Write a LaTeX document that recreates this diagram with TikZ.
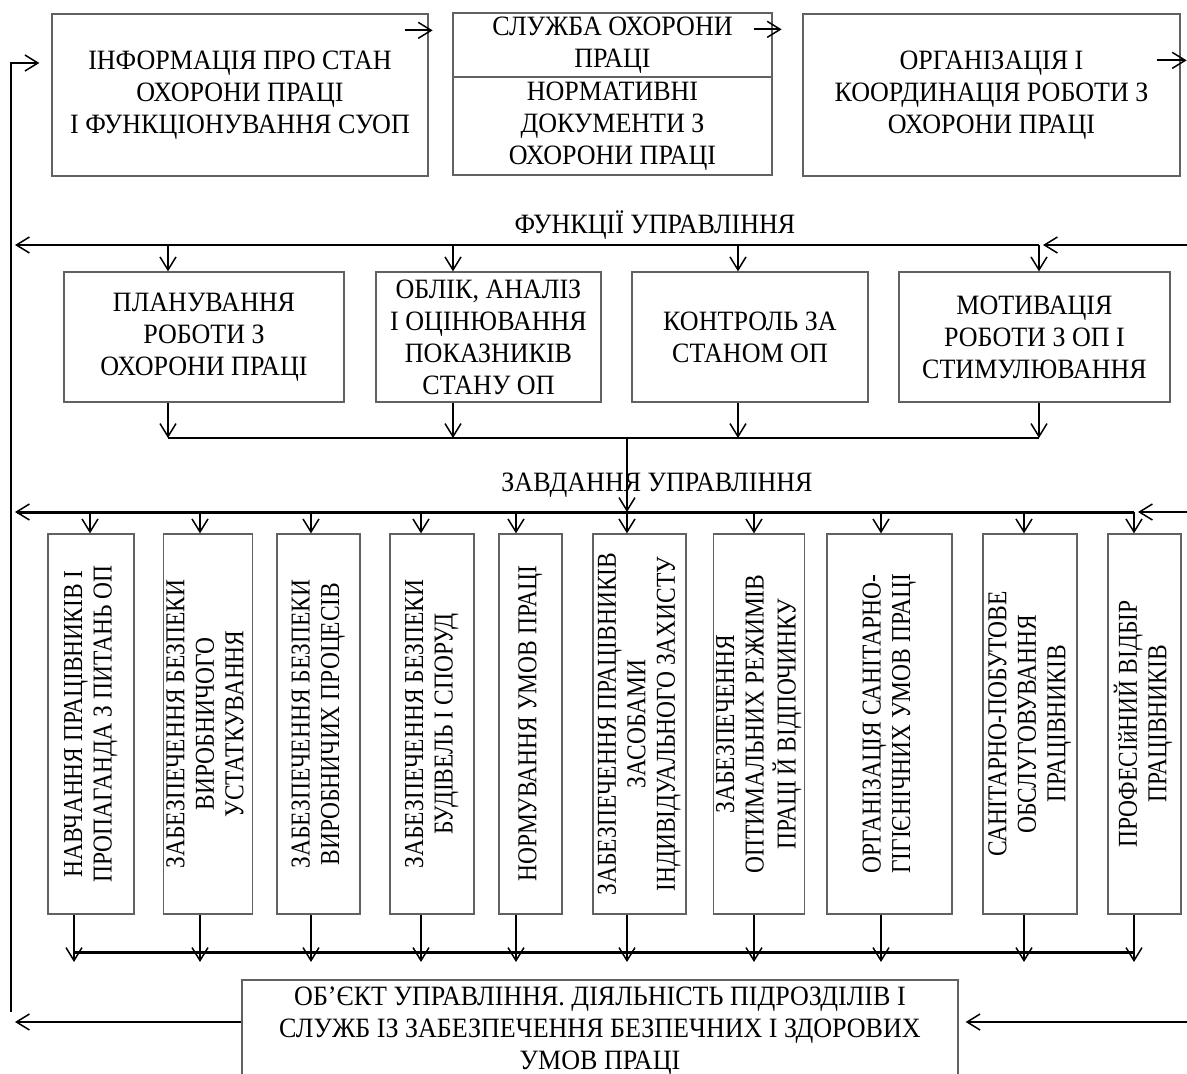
\documentclass[tikz,border=0pt]{standalone}
\usepackage{fontspec}
\setmainfont{Liberation Serif}[FakeStretch=0.93]
\newfontfamily\vfont{Liberation Serif}[FakeStretch=0.86]
\usetikzlibrary{arrows.meta}
\tikzset{
  blk/.style={draw=black!62,line width=1.3pt,align=center,inner sep=0pt,font=\fontsize{28}{32}\selectfont},
  lnk/.style={line width=1.8pt,-{Straight Barb[length=13pt,width=16pt,line width=1.5pt]}},
  bus/.style={line width=3pt},
}
\newcommand\vlines[1]{\rotatebox{90}{\vfont\fontsize{27.3}{29.5}\selectfont\begin{tabular}{@{}c@{}}#1\end{tabular}}}
\begin{document}
\begin{tikzpicture}[x=1pt,y=-1pt]
  \useasboundingbox (0,0) rectangle (1187,1074);
  \node[blk,minimum width=376pt,minimum height=162pt] (info) at (240,95) {ІНФОРМАЦІЯ ПРО СТАН\\ОХОРОНИ ПРАЦІ\\І ФУНКЦІОНУВАННЯ СУОП};
  \node[blk,minimum width=319pt,minimum height=64pt] (sluzhba) at (612.5,45) {СЛУЖБА ОХОРОНИ\\ПРАЦІ};
  \node[blk,minimum width=319pt,minimum height=98pt] (normy) at (612.5,126) {НОРМАТИВНІ\\ДОКУМЕНТИ З\\ОХОРОНИ ПРАЦІ};
  \node[blk,minimum width=377pt,minimum height=162pt] (org) at (991.5,95) {ОРГАНІЗАЦІЯ І\\КООРДИНАЦІЯ РОБОТИ З\\ОХОРОНИ ПРАЦІ};
  \draw[lnk] (info.north east) ++(-24,17) -- ++(28,0);
  \draw[lnk] (sluzhba.north east) ++(-19,17) -- ++(28,0);
  \draw[lnk] (org.north east) ++(-24,47) -- ++(30,0);
  \draw[lnk,shorten >=12pt] (11,1012) -- (11,63) -- (info.west |- 0,63);

  \node[font=\fontsize{28}{32}\selectfont] (funk) at (655,225) {ФУНКЦІЇ УПРАВЛІННЯ};
  \coordinate (fL) at (15,245);
  \coordinate (fR) at (1187,245);
  \coordinate (sum) at (627,438);
  \node[blk,minimum width=280pt,minimum height=130pt] (plan) at (204,337) {ПЛАНУВАННЯ\\РОБОТИ З\\ОХОРОНИ ПРАЦІ};
  \node[blk,minimum width=225pt,minimum height=130pt] (oblik) at (488.5,337) {ОБЛІК, АНАЛІЗ\\І ОЦІНЮВАННЯ\\ПОКАЗНИКІВ\\СТАНУ ОП};
  \node[blk,minimum width=236pt,minimum height=130pt] (kontrol) at (750,337) {КОНТРОЛЬ ЗА\\СТАНОМ ОП};
  \node[blk,minimum width=271pt,minimum height=130pt] (motyv) at (1034.5,337) {МОТИВАЦІЯ\\РОБОТИ З ОП І\\СТИМУЛЮВАННЯ};
  \draw[lnk] (1039,245) -- (fL);
  \draw[lnk,shorten >=4pt] (fR) -- (1039,245);
  \foreach \n/\x in {plan/168,oblik/453,kontrol/738,motyv/1039}{
    \draw[lnk] (fL -| \x,0) -- (\n.north -| \x,0);
    \draw[lnk] (\n.south -| \x,0) -- (sum -| \x,0);
  }
  \draw[line width=1.8pt] (sum -| 168,0) -- (sum -| 1039,0);

  \node[font=\fontsize{28}{32}\selectfont] (zavd) at (657,485) {ЗАВДАННЯ УПРАВЛІННЯ};
  \coordinate (zL) at (15,512);
  \coordinate (zR) at (1187,512);
  \draw[lnk] (sum) -- (sum |- zL);
  \draw[lnk,bus] (1134,512) -- (zL);
  \draw[lnk,shorten >=4pt] (zR) -- (1134,512);
  \foreach \n/\x/\w/\a/\b/\t in {
    t1/91/86/90/74/{НАВЧАННЯ ПРАЦІВНИКІВ І\\ПРОПАГАНДА З ПИТАНЬ ОП},
    t2/208/86/200/200/{ЗАБЕЗПЕЧЕННЯ БЕЗПЕКИ\\ВИРОБНИЧОГО\\УСТАТКУВАННЯ},
    t3/318.5/83/311/311/{ЗАБЕЗПЕЧЕННЯ БЕЗПЕКИ\\ВИРОБНИЧИХ ПРОЦЕСІВ},
    t4/432/84/421/421/{ЗАБЕЗПЕЧЕННЯ БЕЗПЕКИ\\БУДІВЕЛЬ І СПОРУД},
    t5/530.5/63/516/516/{НОРМУВАННЯ УМОВ ПРАЦІ},
    t6/639.5/93/627/627/{ЗАБЕЗПЕЧЕННЯ ПРАЦІВНИКІВ\\ЗАСОБАМИ\\ІНДИВІДУАЛЬНОГО ЗАХИСТУ},
    t7/759/84/754/754/{ЗАБЕЗПЕЧЕННЯ\\ОПТИМАЛЬНИХ РЕЖИМІВ\\ПРАЦІ Й ВІДПОЧИНКУ},
    t8/889.5/125/881/881/{ОРГАНІЗАЦІЯ САНІТАРНО-\\ГІГІЄНІЧНИХ УМОВ ПРАЦІ},
    t9/1030/94/1024/1024/{САНІТАРНО-ПОБУТОВЕ\\ОБСЛУГОВУВАННЯ\\ПРАЦІВНИКІВ},
    t10/1144.5/73/1134/1134/{ПРОФЕСІйНИЙ ВІДБІР\\ПРАЦІВНИКІВ}}{
    \node[blk,minimum width=\w pt,minimum height=380pt] (\n) at (\x,724) {\vlines{\t}};
    \draw[lnk] (zL -| \a,0) -- (\n.north -| \a,0);
    \draw[lnk] (\n.south -| \b,0) -- (\b,962);
  }
  \draw[bus] (74,952) -- (1134,952);

  \node[blk,minimum width=716pt,minimum height=102pt] (obj) at (600,1031) {ОБ’ЄКТ УПРАВЛІННЯ. ДІЯЛЬНІСТЬ ПІДРОЗДІЛІВ І\\СЛУЖБ ІЗ ЗАБЕЗПЕЧЕННЯ БЕЗПЕЧНИХ І ЗДОРОВИХ\\УМОВ ПРАЦІ};
  \draw[lnk] (obj.west |- 0,1022) -- (15,1022);
  \draw[lnk,shorten >=7pt] (1187,1022) -- (obj.east |- 0,1022);
\end{tikzpicture}
\end{document}
